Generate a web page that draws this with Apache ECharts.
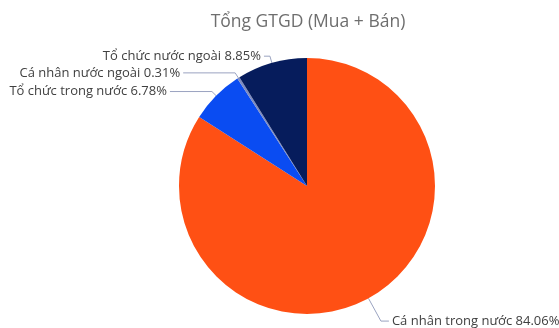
<!DOCTYPE html>
<html><head><meta charset="utf-8">
<script src="https://cdn.jsdelivr.net/npm/echarts@6/dist/echarts.min.js"></script>
<style>html,body{margin:0;padding:0;background:#fff}#c{width:559px;height:328px}</style>
</head><body><div id="c"></div>
<script>
const categories = ["Cá nhân trong nước", "Tổ chức trong nước", "Cá nhân nước ngoài", "Tổ chức nước ngoài"];
const values = [84.06, 6.78, 0.31, 8.85];
const colors = ["#FF5014", "#0A4CF2", "#7E8CC0", "#061C5C"];
const lineLen = [[26, 8], [6, 42], [6, 52], [7, 6]];

const chart = echarts.init(document.getElementById('c'));
chart.setOption({
  animation: false,
  title: {
    text: "Tổng GTGD (Mua + Bán)", left: 303, top: 8, textAlign: 'center',
    textStyle: {fontFamily: 'Open Sans', fontSize: 17.5, fontWeight: 'normal', color: '#6E6E6E'}
  },
  series: [{
    type: 'pie',
    center: [307, 186],
    radius: 128,
    startAngle: 90,
    clockwise: true,
    avoidLabelOverlap: false,
    data: categories.map((c, i) => ({
      name: c, value: values[i], itemStyle: {color: colors[i]},
      labelLine: {length: lineLen[i][0], length2: lineLen[i][1]}
    })),
    label: {
      formatter: p => p.name + ' ' + p.value.toFixed(2) + '%',
      fontFamily: 'Open Sans', fontSize: 13, color: '#404040', distanceToLabelLine: 3
    },
    labelLine: {lineStyle: {color: '#9AA3C0', width: 1}}
  }]
});
</script></body></html>
